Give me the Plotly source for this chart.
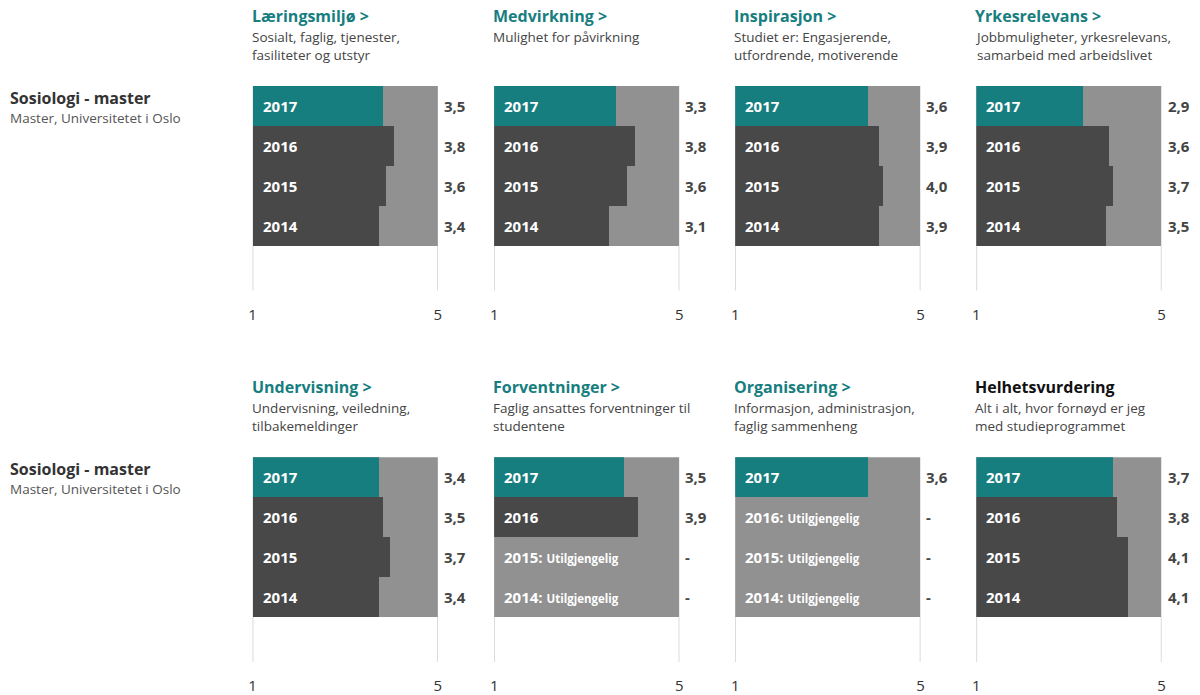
import plotly.graph_objects as go

years = ["2017", "2016", "2015", "2014"]
titles = ["Læringsmiljø", "Medvirkning", "Inspirasjon", "Yrkesrelevans",
          "Undervisning", "Forventninger", "Organisering", "Helhetsvurdering"]
has_link = [True, True, True, True, True, True, True, False]
subtitles = [
    "Sosialt, faglig, tjenester,<br>fasiliteter og utstyr",
    "Mulighet for påvirkning",
    "Studiet er: Engasjerende,<br>utfordrende, motiverende",
    "Jobbmuligheter, yrkesrelevans,<br>samarbeid med arbeidslivet",
    "Undervisning, veiledning,<br>tilbakemeldinger",
    "Faglig ansattes forventninger til<br>studentene",
    "Informasjon, administrasjon,<br>faglig sammenheng",
    "Alt i alt, hvor fornøyd er jeg<br>med studieprogrammet",
]
# values per panel, order 2017, 2016, 2015, 2014 (None = unavailable)
values = [
    [3.5, 3.8, 3.6, 3.4],
    [3.3, 3.8, 3.6, 3.1],
    [3.6, 3.9, 4.0, 3.9],
    [2.9, 3.6, 3.7, 3.5],
    [3.4, 3.5, 3.7, 3.4],
    [3.5, 3.9, None, None],
    [3.6, None, None, None],
    [3.7, 3.8, 4.1, 4.1],
]
program = "Sosiologi - master"
program_sub = "Master, Universitetet i Oslo"
scale_max = 5
tick_vals = [0, 5]
tick_text = ["1", "5"]

TEAL = "#177e80"
DARK = "#484848"
LIGHT = "#919191"
FONT = "Open Sans"
W, H = 1200, 695


def px(x):
    # horizontal pixel target -> paper fraction
    return ((x - 3) / 0.995) / W


fig = go.Figure()
layout = dict(width=W, height=H, margin=dict(l=0, r=0, t=0, b=0),
              paper_bgcolor="white", plot_bgcolor="white", showlegend=False,
              barmode="overlay", bargap=0, font=dict(family=FONT, color="#333"))
annotations = []
shapes = []

col_left = [252, 494, 735.5, 977]
pw = 185.5
rows_top = [86, 458]
ph = 205
title_top = [3, 375]

for i in range(8):
    r, c = divmod(i, 4)
    n = i + 1
    xa = "x" if n == 1 else f"x{n}"
    ya = "y" if n == 1 else f"y{n}"
    xl = col_left[c]
    top = rows_top[r]
    layout["xaxis" if n == 1 else f"xaxis{n}"] = dict(
        domain=[px(xl), px(xl + pw)], range=[0, scale_max], anchor=ya,
        tickvals=tick_vals, ticktext=tick_text, showgrid=False,
        zeroline=False, showline=False, ticks="", fixedrange=True,
        ticklabelstandoff=13, tickfont=dict(size=15, color="#333", family=FONT))
    layout["yaxis" if n == 1 else f"yaxis{n}"] = dict(
        domain=[1 - (top + ph) / H, 1 - top / H], range=[4.625, -0.5], anchor=xa,
        visible=False, fixedrange=True)
    for gx in tick_vals:
        shapes.append(dict(type="line", xref=xa, yref=f"{ya} domain", x0=gx, x1=gx,
                           y0=0, y1=1, layer="below",
                           line=dict(color="#d0d0d0", width=1.5)))
    vals = values[i]
    # background full bars
    fig.add_trace(go.Bar(x=[scale_max] * 4, y=list(range(4)), orientation="h",
                         marker=dict(color=LIGHT, line=dict(width=0)), width=1,
                         xaxis=xa, yaxis=ya, hoverinfo="skip"))
    ys = [k for k in range(4) if vals[k] is not None]
    xs = [vals[k] for k in ys]
    cols = [TEAL if k == 0 else DARK for k in ys]
    fig.add_trace(go.Bar(x=xs, y=ys, orientation="h",
                         marker=dict(color=cols, line=dict(width=0)), width=1,
                         xaxis=xa, yaxis=ya))
    for k in range(4):
        v = vals[k]
        if v is None:
            txt = f"<b>{years[k]}: <span style='font-size:11.5px'>Utilgjengelig</span></b>"
            vt = "<b>-</b>"
        else:
            txt = f"<b>{years[k]}</b>"
            vt = "<b>" + f"{v:.1f}".replace(".", ",") + "</b>"
        annotations.append(dict(x=0, y=k, xref=xa, yref=ya, xanchor="left",
                                xshift=8, text=txt, showarrow=False,
                                font=dict(size=15, color="white", family=FONT)))
        annotations.append(dict(x=scale_max, y=k, xref=xa, yref=ya, xanchor="left",
                                xshift=4, text=vt, showarrow=False,
                                font=dict(size=15, color="#444", family=FONT)))
    # titles
    t = f"<b>{titles[i]}</b>" + (" <b>&gt;</b>" if has_link[i] else "")
    annotations.append(dict(x=px(xl - 3), y=1 - title_top[r] / H, xref="paper", yref="paper",
                            xanchor="left", yanchor="top", text=t, showarrow=False,
                            font=dict(size=16, color=TEAL if has_link[i] else "#111",
                                      family=FONT)))
    annotations.append(dict(x=px(xl - 3), y=1 - (title_top[r] + 23) / H, xref="paper",
                            yref="paper", xanchor="left", yanchor="top",
                            text=subtitles[i], showarrow=False, align="left",
                            font=dict(size=13.5, color="#444", family=FONT)))

for r in range(2):
    top = rows_top[r]
    annotations.append(dict(x=px(7), y=1 - (top - 1) / H, xref="paper", yref="paper",
                            xanchor="left", yanchor="top", text=f"<b>{program}</b>",
                            showarrow=False, font=dict(size=16, color="#333", family=FONT)))
    annotations.append(dict(x=px(7), y=1 - (top + 21) / H, xref="paper", yref="paper",
                            xanchor="left", yanchor="top", text=program_sub,
                            showarrow=False, font=dict(size=13.5, color="#555", family=FONT)))

layout["annotations"] = annotations
layout["shapes"] = shapes
fig.update_layout(**layout)
fig.write_html("out.html", config={"displayModeBar": False},
               post_script="document.documentElement.style.overflow='hidden';"
                           "document.body.style.margin='0';document.body.style.overflow='hidden';")
